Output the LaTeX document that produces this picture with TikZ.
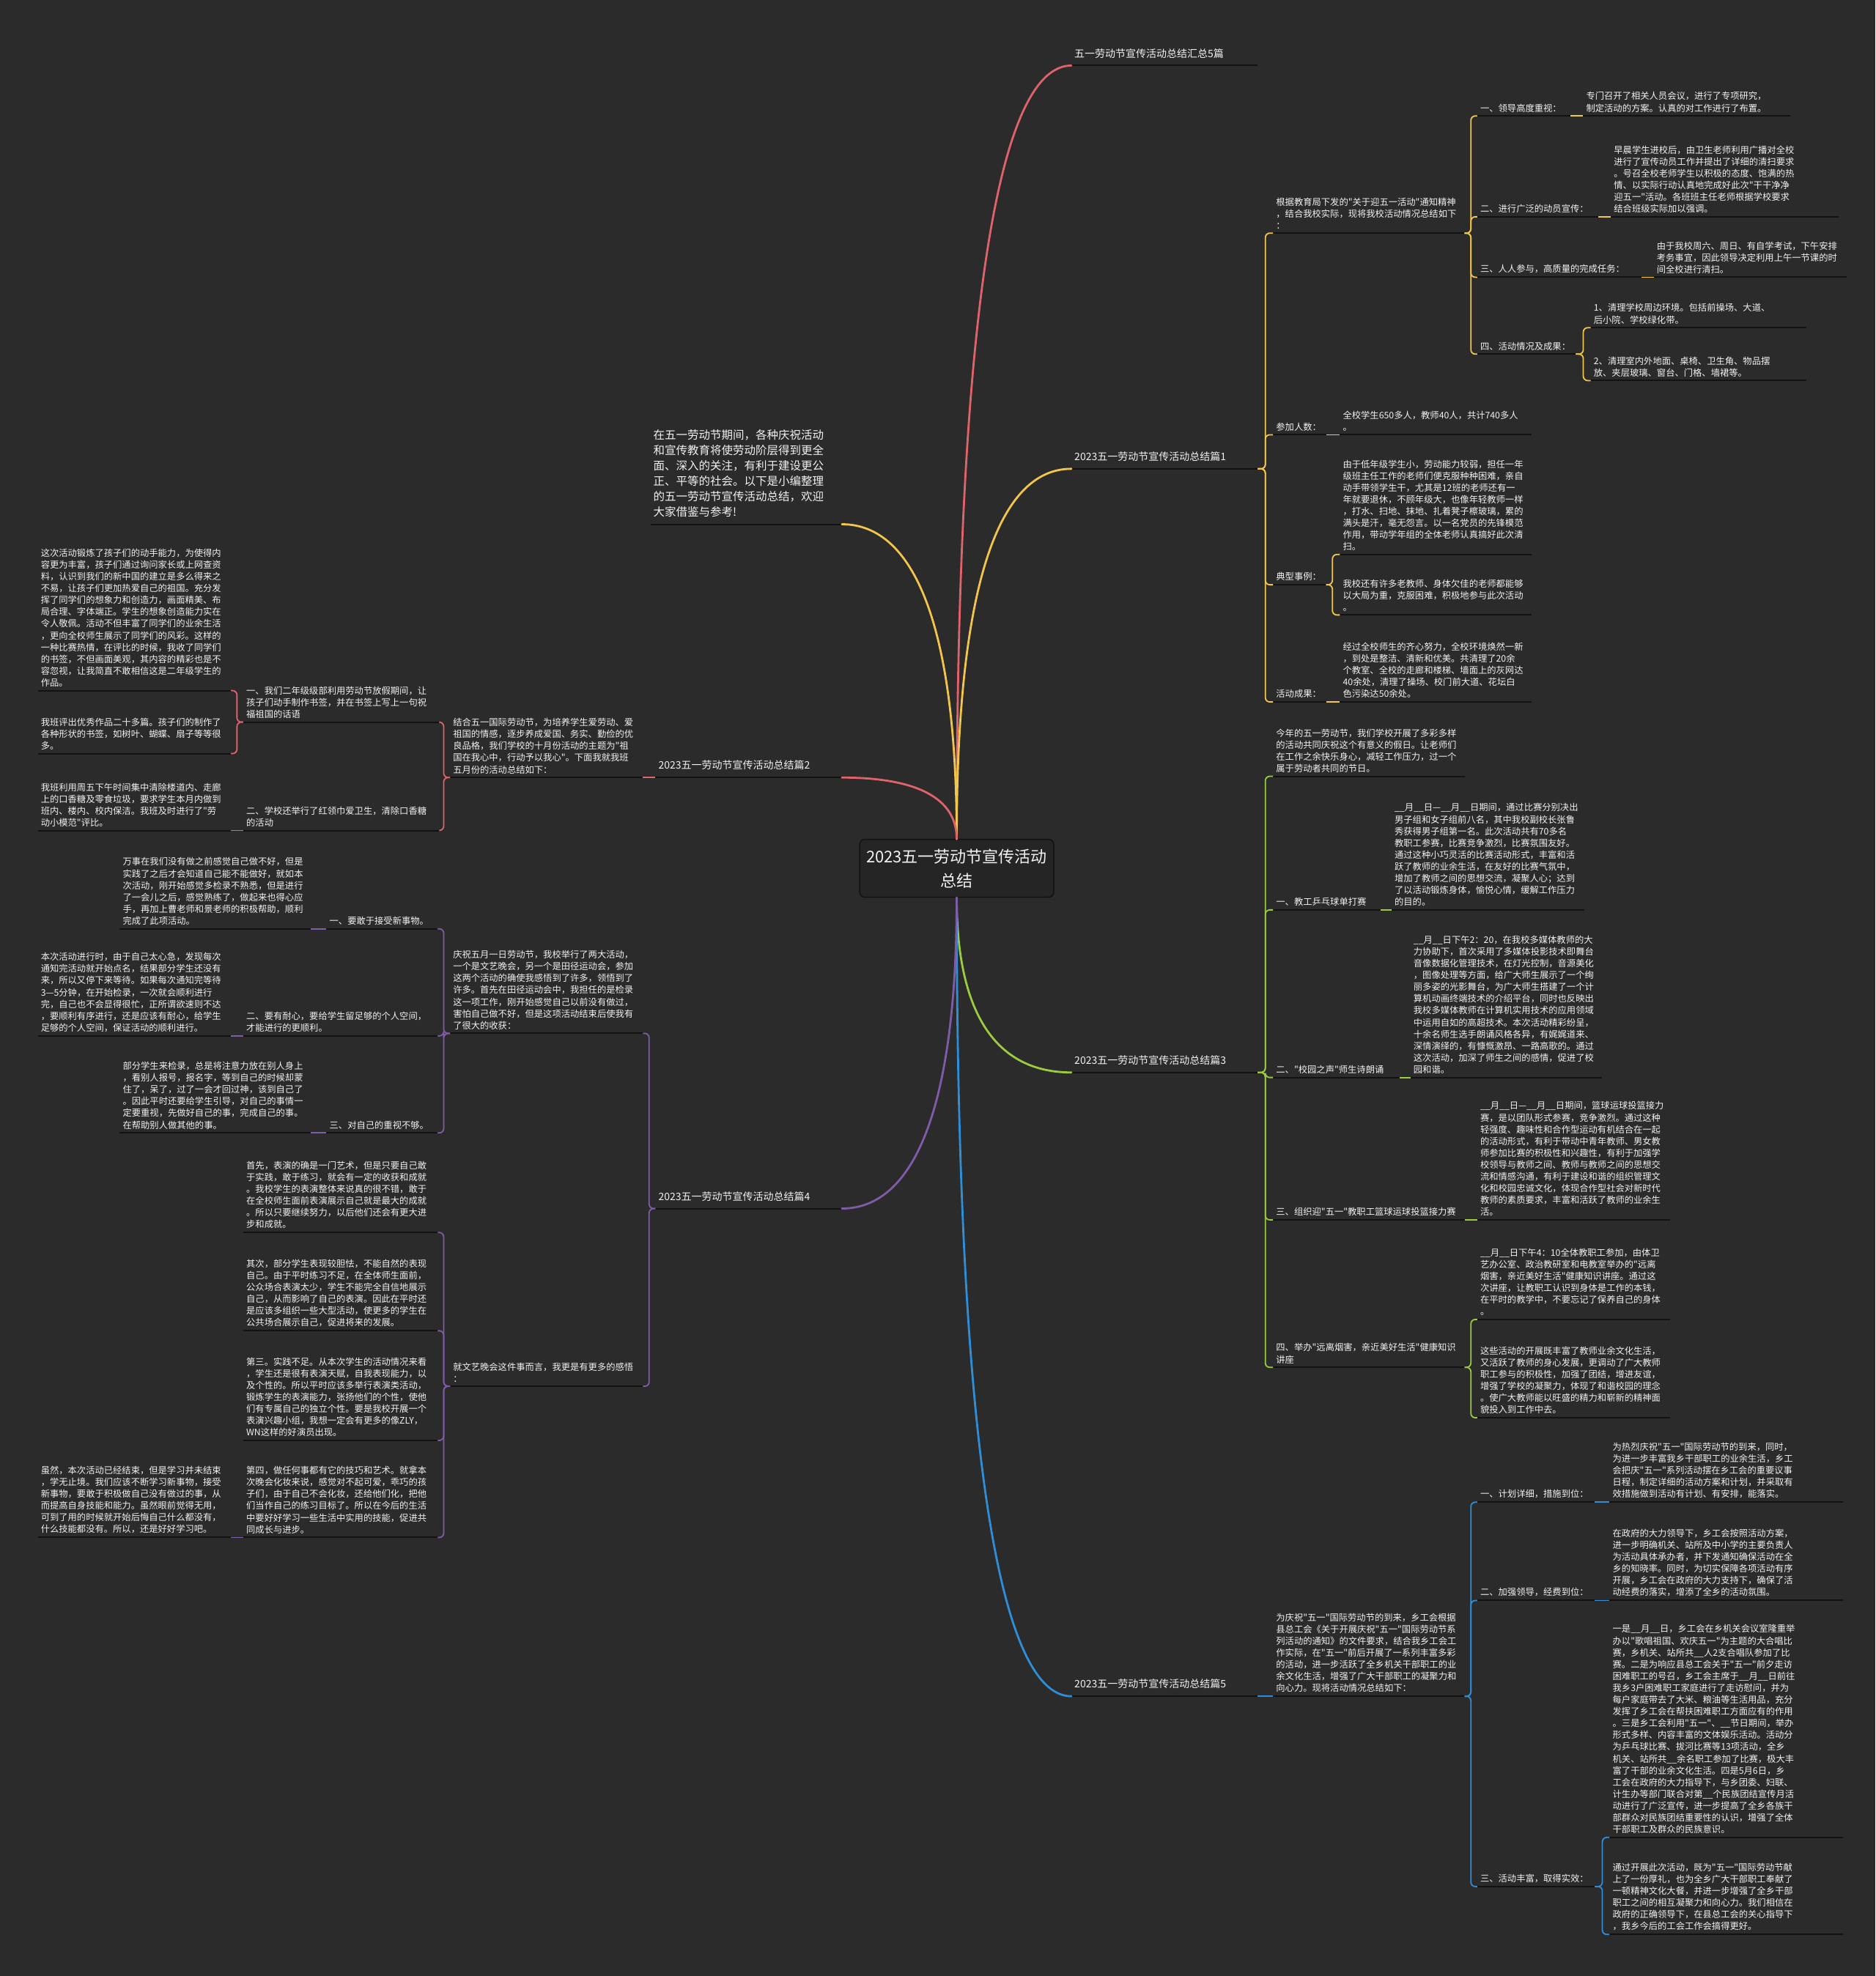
\documentclass[tikz,border=0pt]{standalone}
\usepackage{fontspec}
\setmainfont{Noto Sans CJK SC}[Ligatures=TeXOff]
\definecolor{bgc}{HTML}{2B2B2B}
\definecolor{fgc}{HTML}{F2F2F2}
\definecolor{ulc}{HTML}{121212}
\definecolor{boxc}{HTML}{252525}
\definecolor{redc}{HTML}{E0636C}
\definecolor{yelc}{HTML}{F2C54B}
\definecolor{grnc}{HTML}{9CCB3F}
\definecolor{bluc}{HTML}{2F8ED8}
\definecolor{purc}{HTML}{7E5CA8}
\tikzset{
  ctrbox/.style={draw=ulc,fill=boxc,line width=1.5pt,rounded corners=7pt,align=center,text=fgc,
    minimum width=265pt,minimum height=79pt,font=\fontsize{22}{33}\selectfont},
  mainlbl/.style={anchor=south west,inner xsep=4pt,inner ysep=10pt,align=left,text=fgc,
    text width=#1,font=\fontsize{14}{19}\selectfont},
  lbl/.style={anchor=south west,inner xsep=4pt,inner ysep=5pt,align=left,text=fgc,
    text width=#1,font=\fontsize{12.3}{16.1}\selectfont},
  ul/.style={draw=ulc,line width=2pt},
  trunk/.style={line width=2.8pt,line cap=round},
  twig/.style={line width=1.8pt,rounded corners=6pt}
}
\begin{document}
\begin{tikzpicture}[x=1.7204pt,y=-1.7204pt]
\fill[bgc] (0,0) rectangle (1488,1568);
\useasboundingbox (0,0) rectangle (1488,1568);
\node[ctrbox] (ctr) at (759,689) {2023五一劳动节宣传活动\\总结};
\node[mainlbl=246pt] (b0) at (850,52) {五一劳动节宣传活动总结汇总5篇};
\node[mainlbl=246pt] (b1) at (850,372) {2023五一劳动节宣传活动总结篇1};
\node[mainlbl=246pt] (b3) at (850,851) {2023五一劳动节宣传活动总结篇3};
\node[mainlbl=246pt] (b5) at (850,1346) {2023五一劳动节宣传活动总结篇5};
\node[mainlbl=246pt] (b2) at (520,617) {2023五一劳动节宣传活动总结篇2};
\node[mainlbl=246pt] (b4) at (520,959) {2023五一劳动节宣传活动总结篇4};
\node[mainlbl=253pt,font=\fontsize{15.5}{21}\selectfont] (intro) at (516,416) {在五一劳动节期间，各种庆祝活动\\和宣传教育将使劳动阶层得到更全\\面、深入的关注，有利于建设更公\\正、平等的社会。以下是小编整理\\的五一劳动节宣传活动总结，欢迎\\大家借鉴与参考!};

\node[lbl=253pt] (b1p) at (1010,185) {根据教育局下发的"关于迎五一活动"通知精神\\，结合我校实际，现将我校活动情况总结如下\\：};
\node[lbl=119pt] (b1a) at (1172,92) {一、领导高度重视：};
\node[lbl=274pt] (b1al) at (1256,92) {专门召开了相关人员会议，进行了专项研究，\\制定活动的方案。认真的对工作进行了布置。};
\node[lbl=157pt] (b1b) at (1172,172) {二、进行广泛的动员宣传：};
\node[lbl=302pt] (b1bl) at (1278,172) {早晨学生进校后，由卫生老师利用广播对全校\\进行了宣传动员工作并提出了详细的清扫要求\\。号召全校老师学生以积极的态度、饱满的热\\情、以实际行动认真地完成好此次"干干净净\\迎五一"活动。各班班主任老师根据学校要求\\结合班级实际加以强调。};
\node[lbl=216pt] (b1c) at (1172,220) {三、人人参与，高质量的完成任务：};
\node[lbl=255pt] (b1cl) at (1312,220) {由于我校周六、周日、有自学考试，下午安排\\考务事宜，因此领导决定利用上午一节课的时\\间全校进行清扫。};
\node[lbl=126pt] (b1d) at (1172,281) {四、活动情况及成果：};
\node[lbl=286pt] (b1d1) at (1262,260) {1、清理学校周边环境。包括前操场、大道、\\后小院、学校绿化带。};
\node[lbl=286pt] (b1d2) at (1262,302) {2、清理室内外地面、桌椅、卫生角、物品摆\\放、夹层玻璃、窗台、门格、墙裙等。};
\node[lbl=64pt] (b1e) at (1010,345) {参加人数：};
\node[lbl=253pt] (b1el) at (1063,345) {全校学生650多人，教师40人，共计740多人\\。};
\node[lbl=64pt] (b1f) at (1010,464) {典型事例：};
\node[lbl=253pt] (b1f1) at (1063,440) {由于低年级学生小，劳动能力较弱，担任一年\\级班主任工作的老师们便克服种种困难，亲自\\动手带领学生干，尤其是12班的老师还有一\\年就要退休，不顾年级大，也像年轻教师一样\\，打水、扫地、抹地、扎着凳子檫玻璃，累的\\满头是汗，毫无怨言。以一名党员的先锋模范\\作用，带动学年组的全体老师认真搞好此次清\\扫。};
\node[lbl=253pt] (b1f2) at (1063,488) {我校还有许多老教师、身体欠佳的老师都能够\\以大局为重，克服困难，积极地参与此次活动\\。};
\node[lbl=64pt] (b1g) at (1010,557) {活动成果：};
\node[lbl=253pt] (b1gl) at (1063,557) {经过全校师生的齐心努力，全校环境焕然一新\\，到处是整洁、清新和优美。共清理了20余\\个教室、全校的走廊和楼梯、墙面上的灰网达\\40余处，清理了操场、校门前大道、花坛白\\色污染达50余处。};

\node[lbl=253pt] (b3a) at (1010,616) {今年的五一劳动节，我们学校开展了多彩多样\\的活动共同庆祝这个有意义的假日。让老师们\\在工作之余快乐身心，减轻工作压力，过一个\\属于劳动者共同的节日。};
\node[lbl=138pt] (b3b) at (1010,722) {一、教工乒乓球单打赛};
\node[lbl=255pt] (b3bl) at (1104,722) {\_\_月\_\_日—\_\_月\_\_日期间，通过比赛分别决出\\男子组和女子组前八名，其中我校副校长张鲁\\秀获得男子组第一名。此次活动共有70多名\\教职工参赛，比赛竞争激烈，比赛氛围友好。\\通过这种小巧灵活的比赛活动形式，丰富和活\\跃了教师的业余生活，在友好的比赛气氛中，\\增加了教师之间的思想交流，凝聚人心；达到\\了以活动锻炼身体，愉悦心情，缓解工作压力\\的目的。};
\node[lbl=164pt] (b3c) at (1010,855) {二、"校园之声"师生诗朗诵};
\node[lbl=253pt] (b3cl) at (1119,855) {\_\_月\_\_日下午2：20，在我校多媒体教师的大\\力协助下，首次采用了多媒体投影技术即舞台\\音像数据化管理技术，在灯光控制，音源美化\\，图像处理等方面，给广大师生展示了一个绚\\丽多姿的光影舞台，为广大师生搭建了一个计\\算机动画终端技术的介绍平台，同时也反映出\\我校多媒体教师在计算机实用技术的应用领域\\中运用自如的高超技术。本次活动精彩纷呈，\\十余名师生选手朗诵风格各异，有娓娓道来、\\深情演绎的，有慷慨激昂、一路高歌的。通过\\这次活动，加深了师生之间的感情，促进了校\\园和谐。};
\node[lbl=253pt] (b3d) at (1010,968) {三、组织迎"五一"教职工篮球运球投篮接力赛};
\node[lbl=255pt] (b3dl) at (1172,968) {\_\_月\_\_日—\_\_月\_\_日期间，篮球运球投篮接力\\赛，是以团队形式参赛，竞争激烈。通过这种\\轻强度、趣味性和合作型运动有机结合在一起\\的活动形式，有利于带动中青年教师、男女教\\师参加比赛的积极性和兴趣性，有利于加强学\\校领导与教师之间、教师与教师之间的思想交\\流和情感沟通，有利于建设和谐的组织管理文\\化和校园忠诚文化，体现合作型社会对新时代\\教师的素质要求，丰富和活跃了教师的业余生\\活。};
\node[lbl=253pt] (b3e) at (1010,1085) {四、举办"远离烟害，亲近美好生活"健康知识\\讲座};
\node[lbl=255pt] (b3e1) at (1172,1047) {\_\_月\_\_日下午4：10全体教职工参加，由体卫\\艺办公室、政治教研室和电教室举办的"远离\\烟害，亲近美好生活"健康知识讲座。通过这\\次讲座，让教职工认识到身体是工作的本钱，\\在平时的教学中，不要忘记了保养自己的身体\\。};
\node[lbl=255pt] (b3e2) at (1172,1125) {这些活动的开展既丰富了教师业余文化生活，\\又活跃了教师的身心发展，更调动了广大教师\\职工参与的积极性，加强了团结，增进友谊，\\增强了学校的凝聚力，体现了和谐校园的理念\\。使广大教师能以旺盛的精力和崭新的精神面\\貌投入到工作中去。};

\node[lbl=253pt] (b5a) at (1010,1346) {为庆祝"五一"国际劳动节的到来，乡工会根据\\县总工会《关于开展庆祝"五一"国际劳动节系\\列活动的通知》的文件要求，结合我乡工会工\\作实际，在"五一"前后开展了一系列丰富多彩\\的活动，进一步活跃了全乡机关干部职工的业\\余文化生活，增强了广大干部职工的凝聚力和\\向心力。现将活动情况总结如下：};
\node[lbl=152pt] (b5b) at (1172,1192) {一、计划详细，措施到位：};
\node[lbl=310pt] (b5bl) at (1277,1192) {为热烈庆祝"五一"国际劳动节的到来，同时，\\为进一步丰富我乡干部职工的业余生活，乡工\\会把庆"五一"系列活动摆在乡工会的重要议事\\日程，制定详细的活动方案和计划，并采取有\\效措施做到活动有计划、有安排，能落实。};
\node[lbl=152pt] (b5c) at (1172,1270) {二、加强领导，经费到位：};
\node[lbl=310pt] (b5cl) at (1277,1270) {在政府的大力领导下，乡工会按照活动方案，\\进一步明确机关、站所及中小学的主要负责人\\为活动具体承办者，并下发通知确保活动在全\\乡的知晓率。同时，为切实保障各项活动有序\\开展，乡工会在政府的大力支持下，确保了活\\动经费的落实，增添了全乡的活动氛围。};
\node[lbl=152pt] (b5d) at (1172,1497) {三、活动丰富，取得实效：};
\node[lbl=310pt] (b5d1) at (1277,1458) {一是\_\_月\_\_日，乡工会在乡机关会议室隆重举\\办以"歌唱祖国、欢庆五一"为主题的大合唱比\\赛，乡机关、站所共\_\_人2支合唱队参加了比\\赛。二是为响应县总工会关于"五一"前夕走访\\困难职工的号召，乡工会主席于\_\_月\_\_日前往\\我乡3户困难职工家庭进行了走访慰问，并为\\每户家庭带去了大米、粮油等生活用品，充分\\发挥了乡工会在帮扶困难职工方面应有的作用\\。三是乡工会利用"五一"、\_\_节日期间，举办\\形式多样、内容丰富的文体娱乐活动。活动分\\为乒乓球比赛、拔河比赛等13项活动，全乡\\机关、站所共\_\_余名职工参加了比赛，极大丰\\富了干部的业余文化生活。四是5月6日，乡\\工会在政府的大力指导下，与乡团委、妇联、\\计生办等部门联合对第\_\_个民族团结宣传月活\\动进行了广泛宣传，进一步提高了全乡各族干\\部群众对民族团结重要性的认识，增强了全体\\干部职工及群众的民族意识。};
\node[lbl=310pt] (b5d2) at (1277,1535) {通过开展此次活动，既为"五一"国际劳动节献\\上了一份厚礼，也为全乡广大干部职工奉献了\\一顿精神文化大餐，并进一步增强了全乡干部\\职工之间的相互凝聚力和向心力。我们相信在\\政府的正确领导下，在县总工会的关心指导下\\，我乡今后的工会工作会搞得更好。};

\node[lbl=255pt] (b2a) at (357,617) {结合五一国际劳动节，为培养学生爱劳动、爱\\祖国的情感，逐步养成爱国、务实、勤俭的优\\良品格，我们学校的十月份活动的主题为"祖\\国在我心中，行动予以我心"。下面我就我班\\五月份的活动总结如下：};
\node[lbl=259pt] (b2b) at (193,573) {一、我们二年级级部利用劳动节放假期间，让\\孩子们动手制作书签，并在书签上写上一句祝\\福祖国的话语};
\node[lbl=259pt] (b2c) at (193,659) {二、学校还举行了红领巾爱卫生，清除口香糖\\的活动};
\node[lbl=255pt] (b2b1) at (30,548) {这次活动锻炼了孩子们的动手能力，为使得内\\容更为丰富，孩子们通过询问家长或上网查资\\料，认识到我们的新中国的建立是多么得来之\\不易，让孩子们更加热爱自己的祖国。充分发\\挥了同学们的想象力和创造力，画面精美、布\\局合理、字体端正。学生的想象创造能力实在\\令人敬佩。活动不但丰富了同学们的业余生活\\，更向全校师生展示了同学们的风彩。这样的\\一种比赛热情，在评比的时候，我收了同学们\\的书签，不但画面美观，其内容的精彩也是不\\容忽视，让我简直不敢相信这是二年级学生的\\作品。};
\node[lbl=255pt] (b2b2) at (30,598) {我班评出优秀作品二十多篇。孩子们的制作了\\各种形状的书签，如树叶、蝴蝶、扇子等等很\\多。};
\node[lbl=255pt] (b2c1) at (30,659) {我班利用周五下午时间集中清除楼道内、走廊\\上的口香糖及零食垃圾，要求学生本月内做到\\班内、楼内、校内保洁。我班及时进行了"劳\\动小模范"评比。};

\node[lbl=255pt] (b4a) at (357,820) {庆祝五月一日劳动节，我校举行了两大活动，\\一个是文艺晚会，另一个是田径运动会，参加\\这两个活动的确使我感悟到了许多，领悟到了\\许多。首先在田径运动会中，我担任的是检录\\这一项工作，刚开始感觉自己以前没有做过，\\害怕自己做不好，但是这项活动结束后使我有\\了很大的收获：};
\node[lbl=255pt] (b4b) at (357,1100) {就文艺晚会这件事而言，我更是有更多的感悟\\：};
\node[lbl=143pt] (b4a1) at (259,737) {一、要敢于接受新事物。};
\node[lbl=252pt] (b4a1l) at (95,737) {万事在我们没有做之前感觉自己做不好，但是\\实践了之后才会知道自己能不能做好，就如本\\次活动，刚开始感觉多检录不熟悉，但是进行\\了一会儿之后，感觉熟练了，做起来也得心应\\手，再加上曹老师和景老师的积极帮助，顺利\\完成了此项活动。};
\node[lbl=257pt] (b4a2) at (193,822) {二、要有耐心，要给学生留足够的个人空间，\\才能进行的更顺利。};
\node[lbl=255pt] (b4a2l) at (30,822) {本次活动进行时，由于自己太心急，发现每次\\通知完活动就开始点名，结果部分学生还没有\\来，所以又停下来等待。如果每次通知完等待\\3—5分钟，在开始检录，一次就会顺利进行\\完，自己也不会显得很忙，正所谓欲速则不达\\，要顺利有序进行，还是应该有耐心，给学生\\足够的个人空间，保证活动的顺利进行。};
\node[lbl=143pt] (b4a3) at (259,899) {三、对自己的重视不够。};
\node[lbl=252pt] (b4a3l) at (95,899) {部分学生来检录，总是将注意力放在别人身上\\，看别人报号，报名字，等到自己的时候却蒙\\住了，呆了，过了一会才回过神，该到自己了\\。因此平时还要给学生引导，对自己的事情一\\定要重视，先做好自己的事，完成自己的事。\\在帮助别人做其他的事。};
\node[lbl=257pt] (b4b1) at (193,978) {首先，表演的确是一门艺术，但是只要自己敢\\于实践，敢于练习，就会有一定的收获和成就\\。我校学生的表演整体来说真的很不错，敢于\\在全校师生面前表演展示自己就是最大的成就\\。所以只要继续努力，以后他们还会有更大进\\步和成就。};
\node[lbl=257pt] (b4b2) at (193,1056) {其次，部分学生表现较胆怯，不能自然的表现\\自己。由于平时练习不足，在全体师生面前，\\公众场合表演太少，学生不能完全自信地展示\\自己，从而影响了自己的表演。因此在平时还\\是应该多组织一些大型活动，使更多的学生在\\公共场合展示自己，促进将来的发展。};
\node[lbl=257pt] (b4b3) at (193,1143) {第三。实践不足。从本次学生的活动情况来看\\，学生还是很有表演天赋，自我表现能力，以\\及个性的。所以平时应该多举行表演类活动，\\锻炼学生的表演能力，张扬他们的个性，使他\\们有专属自己的独立个性。要是我校开展一个\\表演兴趣小组，我想一定会有更多的像ZLY，\\WN这样的好演员出现。};
\node[lbl=257pt] (b4b4) at (193,1220) {第四，做任何事都有它的技巧和艺术。就拿本\\次晚会化妆来说，感觉对不起可爱，乖巧的孩\\子们，由于自己不会化妆，还给他们化，把他\\们当作自己的练习目标了。所以在今后的生活\\中要好好学习一些生活中实用的技能，促进共\\同成长与进步。};
\node[lbl=255pt] (b4b4l) at (30,1220) {虽然，本次活动已经结束，但是学习并未结束\\，学无止境。我们应该不断学习新事物，接受\\新事物，要敢于积极做自己没有做过的事，从\\而提高自身技能和能力。虽然眼前觉得无用，\\可到了用的时候就开始后悔自己什么都没有，\\什么技能都没有。所以，还是好好学习吧。};

\foreach \n in {b0,b1,b3,b5,b2,b4,intro,b1p,b1a,b1al,b1b,b1bl,b1c,b1cl,b1d,b1d1,b1d2,b1e,b1el,b1f,b1f1,b1f2,b1g,b1gl,
  b3a,b3b,b3bl,b3c,b3cl,b3d,b3dl,b3e,b3e1,b3e2,b5a,b5b,b5bl,b5c,b5cl,b5d,b5d1,b5d2,
  b2a,b2b,b2c,b2b1,b2b2,b2c1,b4a,b4b,b4a1,b4a1l,b4a2,b4a2l,b4a3,b4a3l,b4b1,b4b2,b4b3,b4b4,b4b4l}
  \draw[ul] (\n.south west) -- (\n.south east);

\draw[trunk,redc] (ctr.north) .. controls +(0,-411) and +(-59,0) .. (b0.south west);
\draw[trunk,yelc] (ctr.north) .. controls +(0,-197) and +(-59,0) .. (b1.south west);
\draw[trunk,yelc] (ctr.north) .. controls +(0,-167) and +(58,0) .. (intro.south east);
\draw[trunk,redc] (ctr.north) .. controls +(0,-33) and +(58,0) .. (b2.south east);
\draw[trunk,grnc] (ctr.south) .. controls +(0,93) and +(-59,0) .. (b3.south west);
\draw[trunk,bluc] (ctr.south) .. controls +(0,425) and +(-59,0) .. (b5.south west);
\draw[trunk,purc] (ctr.south) .. controls +(0,165) and +(58,0) .. (b4.south east);

\foreach \c in {b1p,b1e,b1f,b1g}
  \draw[twig,yelc] (b1.south east) -- ++(6,0) |- (\c.south west);
\foreach \c in {b1a,b1b,b1c,b1d}
  \draw[twig,yelc] (b1p.south east) -- ++(5,0) |- (\c.south west);
\foreach \c in {b1d1,b1d2}
  \draw[twig,yelc] (b1d.south east) -- ++(6,0) |- (\c.south west);
\draw[twig,yelc] (b1f.south east) -- ++(5,0) |- (b1f1.south west);
\draw[twig,yelc] (b1f.south east) -- ++(5,0) |- (b1f2.south west);
\draw[twig,yelc] (b1a.south east) -- (b1al.south west);
\draw[twig,yelc] (b1b.south east) -- (b1bl.south west);
\draw[twig,yelc] (b1c.south east) -- (b1cl.south west);
\draw[twig,yelc] (b1e.south east) -- (b1el.south west);
\draw[twig,yelc] (b1g.south east) -- (b1gl.south west);

\foreach \c in {b3a,b3b,b3c,b3d,b3e}
  \draw[twig,grnc] (b3.south east) -- ++(6,0) |- (\c.south west);
\draw[twig,grnc] (b3b.south east) -- (b3bl.south west);
\draw[twig,grnc] (b3c.south east) -- (b3cl.south west);
\draw[twig,grnc] (b3d.south east) -- (b3dl.south west);
\draw[twig,grnc] (b3e.south east) -- ++(5,0) |- (b3e1.south west);
\draw[twig,grnc] (b3e.south east) -- ++(5,0) |- (b3e2.south west);

\draw[twig,bluc] (b5.south east) -- (b5a.south west);
\foreach \c in {b5b,b5c,b5d}
  \draw[twig,bluc] (b5a.south east) -- ++(5,0) |- (\c.south west);
\draw[twig,bluc] (b5b.south east) -- (b5bl.south west);
\draw[twig,bluc] (b5c.south east) -- (b5cl.south west);
\draw[twig,bluc] (b5d.south east) -- ++(6,0) |- (b5d1.south west);
\draw[twig,bluc] (b5d.south east) -- ++(6,0) |- (b5d2.south west);

\draw[twig,redc] (b2.south west) -- (b2a.south east);
\draw[twig,redc] (b2a.south west) -- ++(-5,0) |- (b2b.south east);
\draw[twig,redc] (b2a.south west) -- ++(-5,0) |- (b2c.south east);
\draw[twig,redc] (b2b.south west) -- ++(-5,0) |- (b2b1.south east);
\draw[twig,redc] (b2b.south west) -- ++(-5,0) |- (b2b2.south east);
\draw[twig,redc] (b2c.south west) -- (b2c1.south east);

\draw[twig,purc] (b4.south west) -- ++(-5,0) |- (b4a.south east);
\draw[twig,purc] (b4.south west) -- ++(-5,0) |- (b4b.south east);
\foreach \c in {b4a1,b4a2,b4a3}
  \draw[twig,purc] (b4a.south west) -- ++(-5,0) |- (\c.south east);
\foreach \c in {b4b1,b4b2,b4b3,b4b4}
  \draw[twig,purc] (b4b.south west) -- ++(-5,0) |- (\c.south east);
\draw[twig,purc] (b4a1.south west) -- (b4a1l.south east);
\draw[twig,purc] (b4a2.south west) -- (b4a2l.south east);
\draw[twig,purc] (b4a3.south west) -- (b4a3l.south east);
\draw[twig,purc] (b4b4.south west) -- (b4b4l.south east);
\end{tikzpicture}
\end{document}
